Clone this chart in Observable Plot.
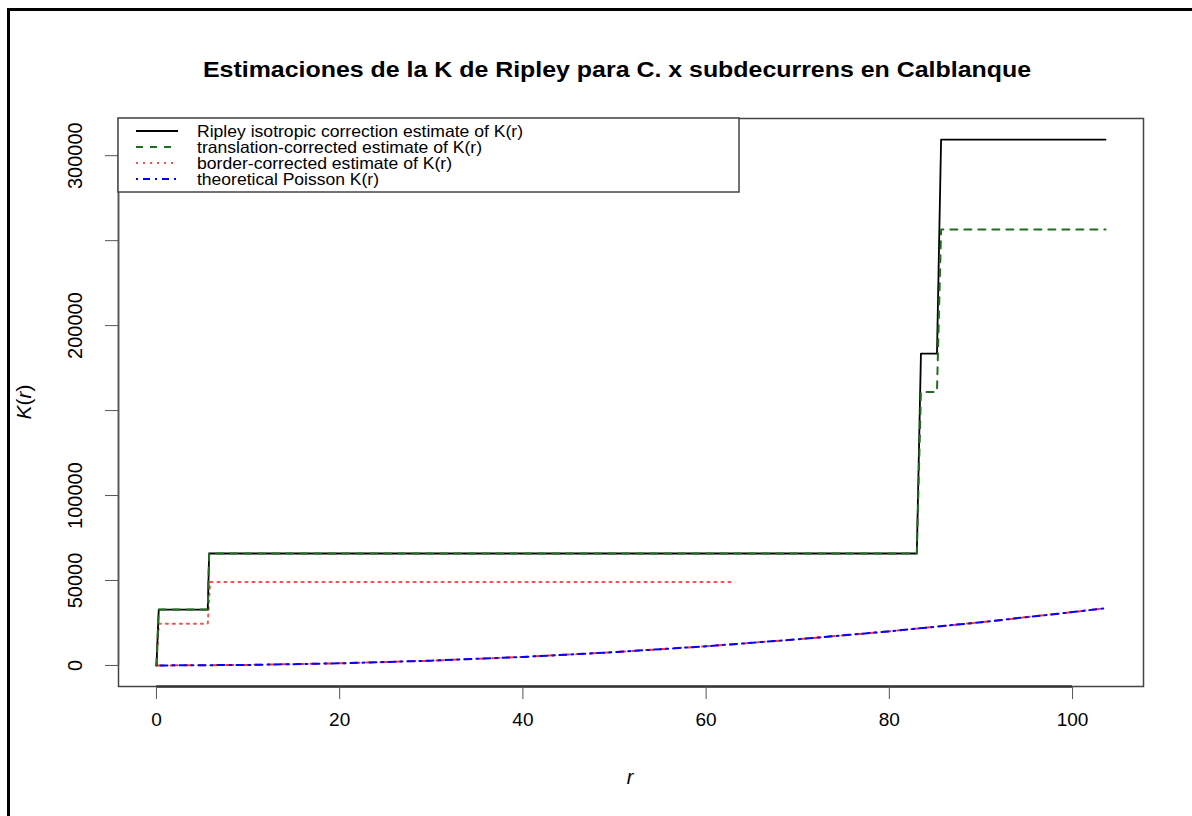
<!DOCTYPE html>
<html>
<head>
<meta charset="utf-8">
<script src="https://cdn.jsdelivr.net/npm/d3@7"></script>
<script src="https://cdn.jsdelivr.net/npm/@observablehq/plot@0.6"></script>
<style>
  html, body { margin: 0; padding: 0; background: #fff; overflow: hidden; }
  #wrap { position: relative; width: 1192px; height: 816px; }
  #outer { position: absolute; left: 7px; top: 8px; width: 1300px; height: 900px; border: 3px solid #000; box-sizing: border-box; }
  #overlay { position: absolute; left: 0; top: 0; }
  #chart { position: absolute; left: 0; top: 0; }
  text { font-family: "Liberation Sans", Arial, Helvetica, sans-serif; }
</style>
</head>
<body>
<div id="wrap">
  <div id="outer"></div>
  <div id="chart"></div>
  <svg id="overlay" width="1192" height="816"></svg>
</div>
<script>
// ---- data ----
const titleText = "Estimaciones de la K de Ripley para C. x subdecurrens en Calblanque";
const xLabel = "r";

const xTicks = [0, 20, 40, 60, 80, 100];
const yTicks = [0, 50000, 100000, 150000, 200000, 250000, 300000];
const yTickLabels = [0, 50000, 100000, 200000, 300000];

// Ripley isotropic correction (black solid)
const isoR = [0, 0.25, 5.6, 5.75, 83.0, 83.45, 85.2, 85.65, 103.6];
const isoK = [0, 32900, 32900, 65900, 65900, 183500, 183500, 309500, 309500];

// translation-corrected (green dashed)
const transR = [0, 0.25, 5.6, 5.75, 83.0, 83.45, 85.2, 85.65, 103.6];
const transK = [0, 32900, 32900, 65900, 65900, 161000, 161000, 256500, 256500];

// border-corrected (red dotted)
const borderR = [0, 0.25, 5.6, 5.85, 63.2];
const borderK = [0, 24600, 24600, 49100, 49100];

// theoretical Poisson (blue dot-dash), with red dashed companion beneath
const theoR = [0, 10, 20, 30, 40, 50, 60, 70, 80, 90, 100, 103.6];
const theoK = [0, 310, 1260, 2830, 5030, 7850, 11300, 15400, 20100, 25450, 31400, 33700];

const legendLabels = [
  "Ripley isotropic correction estimate of K(r)",
  "translation-corrected estimate of K(r)",
  "border-corrected estimate of K(r)",
  "theoretical Poisson K(r)"
];
const legendColors = ["#000000", "#1f6e1f", "#ff4d4d", "#0000ff"];
const legendDash = ["none", "7,7", "2,5", "2,5,7,5"];

// ---- build tables ----
const toRows = (rs, ks) => rs.map((r, i) => ({r, k: ks[i]}));
const iso = toRows(isoR, isoK);
const trans = toRows(transR, transK);
const border = toRows(borderR, borderK);
const theo = toRows(theoR, theoK);

const rMax = d3.max(isoR);
const kMax = d3.max(isoK);
const xDomain = [-0.04 * rMax, rMax * 1.04];
const yDomain = [-0.04 * kMax, kMax * 1.04];

const plot = Plot.plot({
  width: 1192,
  height: 816,
  marginLeft: 118,
  marginRight: 49,
  marginTop: 118,
  marginBottom: 130,
  style: { background: "transparent", fontFamily: "Liberation Sans, Arial, sans-serif", fontSize: "19px", color: "#000" },
  x: { domain: xDomain, ticks: xTicks, label: null },
  y: { domain: yDomain, ticks: yTicks, label: null },
  marks: [
    Plot.frame({ stroke: "#444", strokeWidth: 1.5 }),
    Plot.ruleY([yDomain[0]], { x1: xTicks[0], x2: xTicks[xTicks.length - 1], stroke: "#333", strokeWidth: 2.5 }),
    Plot.ruleX([xDomain[0]], { y1: yTicks[0], y2: yTicks[yTicks.length - 1], stroke: "#555", strokeWidth: 1.5 }),
    Plot.axisX({ ticks: xTicks, tickSize: 13, tickPadding: 13, fontSize: 19, stroke: "#555", tickFormat: d => String(d) }),
    Plot.axisY({ ticks: yTicks, tickSize: 13, tickPadding: 24, fontSize: 20, tickRotate: -90, stroke: "#555",
      tickFormat: d => yTickLabels.includes(d) ? String(d) : "" }),
    Plot.line(theo, { x: "r", y: "k", stroke: "#ff3030", strokeWidth: 2, strokeDasharray: "7,7" }),
    Plot.line(theo, { x: "r", y: "k", stroke: "#0000ff", strokeWidth: 2, strokeDasharray: legendDash[3], strokeDashoffset: 3 }),
    Plot.line(border, { x: "r", y: "k", stroke: legendColors[2], strokeWidth: 2, strokeDasharray: legendDash[2] }),
    Plot.line(iso, { x: "r", y: "k", stroke: "#000", strokeWidth: 1.8 }),
    Plot.line(trans, { x: "r", y: "k", stroke: legendColors[1], strokeWidth: 2, strokeDasharray: legendDash[1] })
  ]
});
document.getElementById("chart").appendChild(plot);

// ---- overlay: title, axis titles, legend ----
const ov = d3.select("#overlay");
ov.append("text")
  .attr("x", 203).attr("y", 77)
  .attr("textLength", 828).attr("lengthAdjust", "spacingAndGlyphs")
  .attr("font-weight", "bold").attr("font-size", 22).attr("fill", "#000")
  .text(titleText);

ov.append("text")
  .attr("x", 630).attr("y", 784).attr("text-anchor", "middle")
  .attr("font-style", "italic").attr("font-size", 20)
  .text(xLabel);

ov.append("text")
  .attr("transform", "translate(31,402) rotate(-90)").attr("text-anchor", "middle")
  .attr("font-size", 21)
  .html('<tspan font-style="italic">K</tspan>(<tspan font-style="italic">r</tspan>)');

// legend box
const lg = ov.append("g");
lg.append("rect").attr("x", 118).attr("y", 118).attr("width", 621).attr("height", 74)
  .attr("fill", "#fff").attr("stroke", "#444").attr("stroke-width", 1.5);
const rowY = [131, 147, 163, 179];
const textW = [326, 285, 255, 182];
legendLabels.forEach((lab, i) => {
  lg.append("line").attr("x1", 136).attr("x2", 178).attr("y1", rowY[i]).attr("y2", rowY[i])
    .attr("stroke", legendColors[i]).attr("stroke-width", 2)
    .attr("stroke-dasharray", legendDash[i]);
  lg.append("text").attr("x", 197).attr("y", rowY[i] + 6)
    .attr("font-size", 16.5).attr("textLength", textW[i]).attr("lengthAdjust", "spacingAndGlyphs")
    .attr("fill", "#000").text(lab);
});
</script>
</body>
</html>
